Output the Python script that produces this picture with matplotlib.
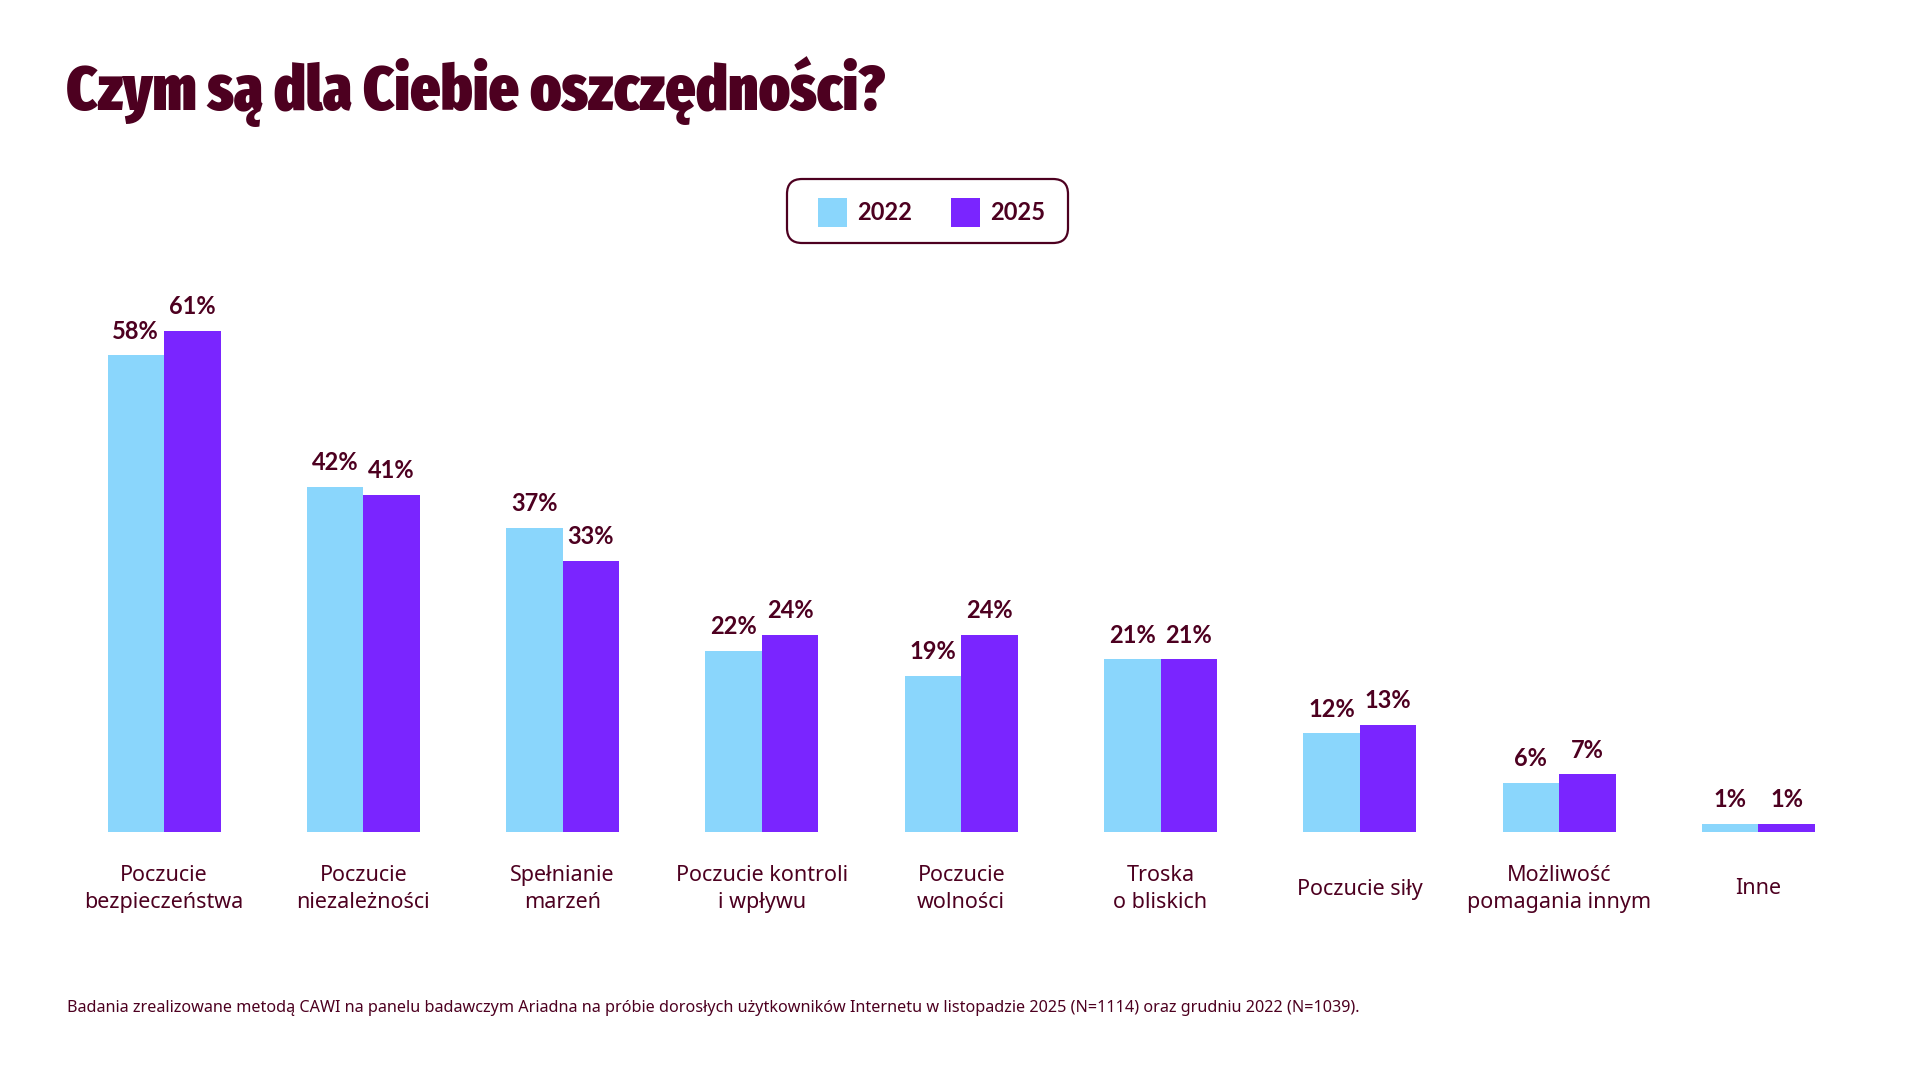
import matplotlib
matplotlib.use("Agg")
import matplotlib.pyplot as plt
from matplotlib import font_manager as fm
from matplotlib.patches import FancyBboxPatch, Rectangle
import matplotlib.transforms as mtransforms
import numpy as np

# ---------------- data ----------------
categories = [
    "Poczucie\nbezpieczeństwa",
    "Poczucie\nniezależności",
    "Spełnianie\nmarzeń",
    "Poczucie kontroli\ni wpływu",
    "Poczucie\nwolności",
    "Troska\no bliskich",
    "Poczucie siły",
    "Możliwość\npomagania innym",
    "Inne",
]
values_2022 = [58, 42, 37, 22, 19, 21, 12, 6, 1]
values_2025 = [61, 41, 33, 24, 24, 21, 13, 7, 1]
series_labels = ["2022", "2025"]
series_colors = ["#8AD6FC", "#7A25FF"]
title_text = "Czym są dla Ciebie oszczędności?"
footnote_text = ("Badania zrealizowane metodą CAWI na panelu badawczym Ariadna na próbie dorosłych "
                 "użytkowników Internetu w listopadzie 2025 (N=1114) oraz grudniu 2022 (N=1039).")

TEXT = "#4D0020"
W, H = 1920, 1080
DPI = 100

plt.rcParams["font.family"] = ["Noto Sans", "DejaVu Sans"]


def weight_num(w):
    if isinstance(w, (int, float)):
        return int(w)
    return fm.weight_dict.get(str(w).lower(), 400)


def find_bold(families, lo=600, hi=800):
    for fam in families:
        cands = []
        for f in fm.fontManager.ttflist:
            if f.name != fam or str(f.style).lower() != "normal":
                continue
            nm = f.fname.lower()
            if "condensed" in nm or "narrow" in nm or "italic" in nm:
                continue
            w = weight_num(f.weight)
            if lo <= w <= hi:
                cands.append((abs(w - 700), f.fname))
        if cands:
            cands.sort()
            return fm.FontProperties(fname=cands[0][1])
    return fm.FontProperties(family="DejaVu Sans", weight="bold")


def pick_condensed_heavy():
    best, best_score = None, -1
    for f in fm.fontManager.ttflist:
        nm = (f.name + " " + f.fname).lower()
        st = str(f.stretch).lower()
        cond = ("narrow" in nm or "condensed" in nm or "condensed" in st)
        if not cond or "italic" in nm or str(f.style).lower() != "normal":
            continue
        w = weight_num(f.weight)
        if w < 700:
            continue
        score = w
        if "extra" in nm:
            score += 50
        if "semi" in nm:
            score -= 100
        if score > best_score:
            best, best_score = f, score
    if best is not None:
        return fm.FontProperties(fname=best.fname)
    return fm.FontProperties(family="DejaVu Sans", weight="bold", stretch="condensed")


bold_fp = find_bold(["Noto Sans", "Lato", "Open Sans", "Roboto", "DejaVu Sans"])

fig = plt.figure(figsize=(W / DPI, H / DPI), dpi=DPI)
fig.patch.set_facecolor("white")
renderer = fig.canvas.get_renderer()


def fit_width(txt, target_px, fs):
    txt.set_fontsize(fs)
    bb = txt.get_window_extent(renderer=renderer)
    txt.set_fontsize(fs * target_px / bb.width)


# ---------------- title ----------------
title_fp = pick_condensed_heavy()
t = fig.text(66 / W, (H - 110) / H, title_text, fontproperties=title_fp,
             color=TEXT, ha="left", va="baseline")
fit_width(t, 819, 42)
t.set_fontsize(min(max(t.get_fontsize(), 34), 52))

# ---------------- bars ----------------
ax = fig.add_axes([0, 248 / H, 1, 575.4 / H])
spacing = 199.3
ax.set_xlim(-164 / spacing, (W - 164) / spacing)
ax.set_ylim(0, 70)
ax.axis("off")

x = np.arange(len(categories))
bw = 56.5 / spacing
for vals, col, off in [(values_2022, series_colors[0], -bw / 2),
                       (values_2025, series_colors[1], bw / 2)]:
    bars = ax.bar(x + off, vals, bw, color=col, linewidth=0)
    for b, v in zip(bars, vals):
        vfp = bold_fp.copy()
        vfp.set_size(17)
        ax.annotate(f"{v}%", (b.get_x() + b.get_width() / 2, v),
                    xytext=(0, 12.0), textcoords="offset points",
                    ha="center", va="baseline", fontproperties=vfp,
                    color=TEXT)

# category labels
trans = mtransforms.blended_transform_factory(ax.transData, fig.transFigure)
for xi, lab in zip(x, categories):
    ax.text(xi, (H - 889) / H, lab, transform=trans, ha="center", va="center",
            multialignment="center", fontsize=15.5, color=TEXT, linespacing=1.32)

# ---------------- legend (manual box) ----------------
inch = fig.dpi_scale_trans
box = FancyBboxPatch((787 / DPI, (H - 243) / DPI), 281 / DPI, 64 / DPI,
                     boxstyle="round,pad=0,rounding_size=0.15",
                     facecolor="white", edgecolor=TEXT, linewidth=1.6,
                     transform=inch)
fig.add_artist(box)
patch_x = [818, 951]
for px, lab, col in zip(patch_x, series_labels, series_colors):
    fig.add_artist(Rectangle((px / DPI, (H - 227) / DPI), 29 / DPI, 29 / DPI,
                             facecolor=col, edgecolor="none", transform=inch))
    lfp = bold_fp.copy()
    lfp.set_size(17)
    fig.text((px + 39) / W, (H - 220) / H, lab, fontproperties=lfp,
             color=TEXT, ha="left", va="baseline")

# ---------------- footnote ----------------
fn = fig.text(67 / W, (H - 1012.5) / H, footnote_text, color=TEXT,
              ha="left", va="baseline")
fit_width(fn, 1296, 11)

fig.savefig("out.png", dpi=DPI)
